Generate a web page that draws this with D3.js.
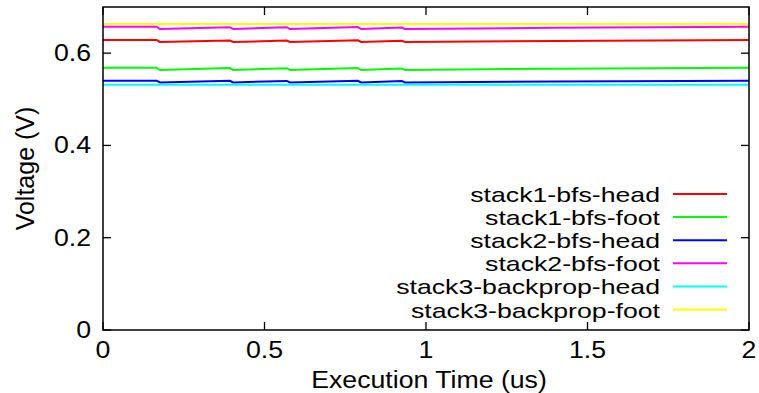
<!DOCTYPE html>
<html>
<head>
<meta charset="utf-8">
<script src="https://cdn.jsdelivr.net/npm/d3@7"></script>
<style>
  body { margin: 0; background: #fff; }
  text { font-family: "Liberation Sans", Arial, sans-serif; fill: #000; }
</style>
</head>
<body>
<div id="chart-area"></div>
<script>
// sample times (us) and voltages (V)
const times = [0, 0.166, 0.176, 0.393, 0.403, 0.569, 0.579, 0.789, 0.799, 0.925, 0.935, 1.4, 2.0];

const s1Head = [0.6285, 0.6285, 0.6242, 0.6274, 0.6242, 0.6272, 0.6242, 0.6277, 0.6242, 0.6268, 0.6243, 0.6265, 0.6285];
const s1Foot = [0.5685, 0.5685, 0.5635, 0.5676, 0.5636, 0.5674, 0.5636, 0.5679, 0.5636, 0.5667, 0.5636, 0.5662, 0.5685];
const s2Head = [0.5403, 0.5403, 0.5366, 0.5400, 0.5366, 0.5398, 0.5366, 0.5402, 0.5366, 0.5395, 0.5366, 0.5385, 0.5403];
const s2Foot = [0.6573, 0.6573, 0.6523, 0.6563, 0.6523, 0.6562, 0.6523, 0.6566, 0.6523, 0.6556, 0.6524, 0.6550, 0.6573];
const s3Head = [0.5316, 0.5316, 0.5316, 0.5316, 0.5316, 0.5316, 0.5316, 0.5316, 0.5316, 0.5316, 0.5316, 0.5316, 0.5316];
const s3Foot = [0.6632, 0.6632, 0.6632, 0.6632, 0.6632, 0.6632, 0.6632, 0.6632, 0.6632, 0.6632, 0.6632, 0.6632, 0.6632];

const names = ['stack1-bfs-head', 'stack1-bfs-foot', 'stack2-bfs-head', 'stack2-bfs-foot', 'stack3-backprop-head', 'stack3-backprop-foot'];
const colors = ['#ff0000', '#00ff00', '#0000ff', '#ff00ff', '#00ffff', '#ffff00'];
const values = [s1Head, s1Foot, s2Head, s2Foot, s3Head, s3Foot];

const xTicks = [0, 0.5, 1, 1.5, 2];
const yTicks = [0, 0.2, 0.4, 0.6];

const W = 759, H = 393;
const margin = { left: 103, right: 10, top: 7, bottom: 63 },
  width = W - margin.left - margin.right,
  height = H - margin.top - margin.bottom;

const tickLen = 8;

let svg = d3.select('#chart-area')
  .append('svg')
  .attr('width', W)
  .attr('height', H)

let x = d3.scaleLinear().domain([0, 2]).range([0, width])
let y = d3.scaleLinear().domain([0, 0.7]).range([height, 0])

let g = svg.append('g')
  .attr('transform', `translate(${margin.left}, ${margin.top})`)

// text helper: the picture's lettering is slightly stretched sideways
function label(parent, px, py, str, anchor, size = 23, stretch = 1.16) {
  parent.append('g')
    .attr('transform', `translate(${px}, ${py}) scale(${stretch}, 1)`)
    .append('text')
    .attr('text-anchor', anchor)
    .style('font-size', size + 'px')
    .text(str)
}

svg.append('defs').append('clipPath').attr('id', 'clip')
  .append('rect').attr('width', width).attr('height', height)

// series
let line = d3.line()
  .x((d, i) => x(times[i]))
  .y(d => y(d))

g.append('g').attr('clip-path', 'url(#clip)')
  .selectAll('path')
  .data(values)
  .join('path')
  .attr('d', d => line(d))
  .attr('fill', 'none')
  .attr('stroke', (d, i) => colors[i])
  .attr('stroke-width', 2)

// ticks (gnuplot style: inward, mirrored)
let ticks = g.append('g').attr('stroke', '#000').attr('stroke-width', 1.3)
xTicks.forEach(t => {
  ticks.append('line').attr('x1', x(t)).attr('x2', x(t)).attr('y1', height).attr('y2', height - tickLen)
  ticks.append('line').attr('x1', x(t)).attr('x2', x(t)).attr('y1', 0).attr('y2', tickLen)
  label(g, x(t), height + 28, d3.format('')(t), 'middle')
})
yTicks.forEach(t => {
  ticks.append('line').attr('x1', 0).attr('x2', tickLen).attr('y1', y(t)).attr('y2', y(t))
  ticks.append('line').attr('x1', width).attr('x2', width - tickLen).attr('y1', y(t)).attr('y2', y(t))
  label(g, -12, y(t) + 8, d3.format('')(t), 'end')
})

// frame
g.append('rect')
  .attr('width', width)
  .attr('height', height)
  .attr('fill', 'none')
  .attr('stroke', '#000')
  .attr('stroke-width', 1.5)

// axis titles
label(svg, margin.left + width / 2 + 3, 388, 'Execution Time (us)', 'middle')

svg.append('text')
  .attr('transform', `translate(34, ${margin.top + height / 2}) rotate(-90)`)
  .attr('text-anchor', 'middle')
  .style('font-size', '25px')
  .text('Voltage (V)')

// legend
let legend = svg.append('g')
names.forEach((n, i) => {
  let ly = 194 + i * 23.1
  legend.append('line')
    .attr('x1', 673).attr('x2', 727)
    .attr('y1', ly).attr('y2', ly)
    .attr('stroke', colors[i])
    .attr('stroke-width', 2)
  label(legend, 660, ly + 8, n, 'end', 21, 1.27)
})
</script>
</body>
</html>
